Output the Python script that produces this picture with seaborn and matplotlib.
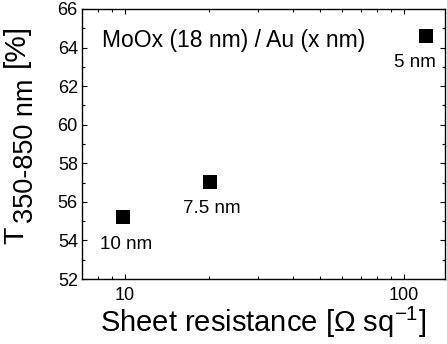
import matplotlib
matplotlib.use('Agg')
import matplotlib.pyplot as plt
import matplotlib.ticker as mticker
import pandas as pd
import seaborn as sns

# data
sheet_res = [9.9, 20.2, 120.0]        # Ohm/sq
transmit = [55.2, 57.05, 64.6]       # T 350-850 nm [%]
au_thick = ['10 nm', '7.5 nm', '5 nm']
label_dx = [2, 1, -8.5]              # label offsets in points
x_ticks = [10, 100]
y_ticks = [52, 54, 56, 58, 60, 62, 64, 66]

df = pd.DataFrame({'rs': sheet_res, 't': transmit, 'au': au_thick})

sns.set_style('ticks')
plt.rcParams['font.family'] = ['Liberation Sans', 'DejaVu Sans']
plt.rcParams['mathtext.fontset'] = 'custom'
plt.rcParams['mathtext.rm'] = 'Liberation Sans'
for key in ['text.color', 'axes.labelcolor', 'xtick.color', 'ytick.color',
            'axes.edgecolor']:
    plt.rcParams[key] = 'black'

fig = plt.figure(figsize=(4.47, 3.44), dpi=100)
ax = fig.add_axes([82 / 447, 1 - 279 / 344, 363 / 447, 270 / 344])

sns.scatterplot(data=df, x='rs', y='t', marker='s', color='black', s=100,
                edgecolor='black', linewidth=0, ax=ax, legend=False)

ax.set_xscale('log')
ax.set_xlim(7.04, 140)
ax.set_ylim(52, 66)
ax.set_yticks(y_ticks)
ax.yaxis.set_minor_locator(mticker.MultipleLocator(1))
ax.set_xticks(x_ticks)
ax.set_xticklabels([str(v) for v in x_ticks])
ax.xaxis.set_minor_locator(mticker.LogLocator(base=10, subs=range(2, 10)))
ax.xaxis.set_minor_formatter(mticker.NullFormatter())

ax.tick_params(which='both', direction='in', top=True, right=True,
               width=0.8, colors='black', labelsize=13)
ax.tick_params(which='major', length=3.8)
ax.tick_params(which='minor', length=2)
ax.tick_params(axis='y', pad=3)
ax.tick_params(axis='x', pad=6)
for sp in ax.spines.values():
    sp.set_linewidth(1.0)
    sp.set_color('black')

ax.set_xlabel(r'Sheet resistance [$\mathregular{\Omega}$ sq$^{\mathregular{-1}}$]',
              fontsize=21, labelpad=0)
ax.set_ylabel('')

# y label: T with big subscript, built from pieces
ylab = dict(rotation=90, rotation_mode='anchor', ha='left', va='baseline')
fig.text(23 / 447, 1 - 244 / 344, 'T', fontsize=20.5, **ylab)
fig.text(33 / 447, 1 - 223 / 344, '350-850 nm', fontsize=19.5, **ylab)
fig.text(24 / 447, 1 - 67 / 344, '[%]', fontsize=21.5, **ylab)

ax.text(0.055, 0.859, 'MoOx (18 nm) / Au (x nm)', transform=ax.transAxes,
        fontsize=16.5, ha='left', va='baseline')

for xv, yv, lab, dx in zip(sheet_res, transmit, au_thick, label_dx):
    ax.annotate(lab, (xv, yv), xytext=(dx, -22.5), textcoords='offset points',
                ha='center', va='baseline', fontsize=13.5)

fig.savefig('out.png', dpi=100)
